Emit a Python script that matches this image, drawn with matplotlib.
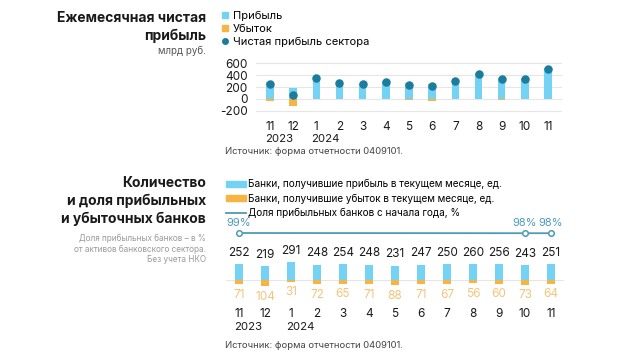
import matplotlib
matplotlib.use("Agg")
import matplotlib.pyplot as plt
import matplotlib.transforms as mtransforms
from matplotlib.lines import Line2D
from matplotlib.patches import Patch

plt.rcParams['font.family'] = ['Inter', 'DejaVu Sans']

# ---------------- data ----------------
months = ['11', '12', '1', '2', '3', '4', '5', '6', '7', '8', '9', '10', '11']
years = ['2023', '2024']
year_pos = [0, 2]

profit = [290, 185, 350, 280, 265, 300, 260, 250, 310, 430, 345, 350, 520]
loss = [-30, -115, -5, -10, -10, -5, -25, -35, -5, -5, -15, -10, -5]
net = [258, 68, 345, 268, 256, 290, 238, 215, 300, 420, 330, 340, 505]

banks_profit = [252, 219, 291, 248, 254, 248, 231, 247, 250, 260, 256, 243, 251]
banks_loss = [71, 104, 31, 72, 65, 71, 88, 71, 67, 56, 60, 73, 64]
share_idx = [0, 11, 12]
share_val = [99, 98, 98]

yticks_top = [600, 400, 200, 0, -200]

C_PROFIT = '#74D3F5'
C_LOSS = '#F6B443'
C_LOSS_TXT = '#F3C47C'
C_NET = '#1B7C9E'
C_LINE = '#4D9BB6'
C_GRID = '#E6E6E6'
C_TXT = '#1A1A1A'
C_GREY = '#9A9A9A'

W, H = 620, 358
fig = plt.figure(figsize=(W / 100, H / 100), dpi=100)


def fy(py):
    return 1 - py / H


def fx(px):
    return px / W


x = list(range(len(months)))

# ---------------- top chart ----------------
ax1 = fig.add_axes([fx(256), fy(113.7), fx(562) - fx(256), fy(60.3) - fy(113.7)])
ax1.set_xlim(-0.6, 12.6)
ax1.set_ylim(-250, 650)
for v in yticks_top:
    ax1.axhline(v, color=C_GRID, lw=0.8, zorder=0)
ax1.bar(x, profit, width=0.32, color=C_PROFIT, zorder=2)
ax1.bar(x, loss, width=0.32, color=C_LOSS, zorder=2)
ax1.scatter(x, net, s=26, color=C_NET, zorder=3)
ax1.set_yticks(yticks_top)
ax1.set_yticklabels([str(v) for v in yticks_top], fontsize=8.5, color=C_TXT)
ax1.set_xticks(x)
ax1.set_xticklabels(months, fontsize=8.5, color=C_TXT)
ax1.tick_params(length=0, axis='y', pad=6)
ax1.tick_params(length=0, axis='x', pad=5)
for s in ax1.spines.values():
    s.set_visible(False)
tr1 = mtransforms.blended_transform_factory(ax1.transData, fig.transFigure)
for yl, xp in zip(years, year_pos):
    ax1.text(xp + 0.38, fy(139.5), yl, transform=tr1, ha='center', va='center',
             fontsize=8.2, color=C_TXT)

leg1 = [
    Line2D([], [], marker='s', ls='none', color=C_PROFIT, markersize=4.5, label='Прибыль'),
    Line2D([], [], marker='s', ls='none', color=C_LOSS, markersize=4.5, label='Убыток'),
    Line2D([], [], marker='o', ls='none', color=C_NET, markersize=4, label='Чистая прибыль сектора'),
]
fig.legend(handles=leg1, loc='upper left', bbox_to_anchor=(fx(222), fy(11)),
           frameon=False, fontsize=8, handlelength=0.6, handletextpad=0.35,
           labelspacing=0.25, borderaxespad=0, borderpad=0)

fig.text(fx(206), fy(18), 'Ежемесячная чистая', ha='right', va='center',
         fontsize=10, fontweight='bold', color=C_TXT)
fig.text(fx(206), fy(36), 'прибыль', ha='right', va='center',
         fontsize=10, fontweight='bold', color=C_TXT)
fig.text(fx(206), fy(51), 'млрд руб.', ha='right', va='center',
         fontsize=7, color='#555555')
fig.text(fx(225), fy(151), 'Источник: форма отчетности 0409101.', ha='left',
         va='center', fontsize=6.8, color='#444444')

# ---------------- bottom chart ----------------
ax2 = fig.add_axes([fx(226), fy(300), fx(564) - fx(226), fy(220) - fy(300)])
ax2.set_xlim(-0.5, 12.5)
ax2.set_ylim(-321, 963)
ax2.axhline(0, color=C_GRID, lw=0.8, zorder=0)
ax2.bar(x, banks_profit, width=0.28, color=C_PROFIT, zorder=2)
ax2.bar(x, [-v for v in banks_loss], width=0.28, color=C_LOSS, zorder=2)
for xi, v in zip(x, banks_profit):
    ax2.annotate(str(v), (xi, v), xytext=(0, 8), textcoords='offset points',
                 ha='center', va='center', fontsize=8.5, color=C_TXT)
for xi, v in zip(x, banks_loss):
    ax2.annotate(str(v), (xi, -v), xytext=(0, -7.5), textcoords='offset points',
                 ha='center', va='center', fontsize=8.5, color=C_LOSS_TXT)
ax2.set_xticks(x)
ax2.set_xticklabels(months, fontsize=8.5, color=C_TXT)
ax2.tick_params(length=0, axis='x', pad=6)
ax2.set_yticks([])
for s in ax2.spines.values():
    s.set_visible(False)
tr2 = mtransforms.blended_transform_factory(ax2.transData, fig.transFigure)
for yl, xp in zip(years, year_pos):
    ax2.text(xp + 0.35, fy(327.5), yl, transform=tr2, ha='center', va='center',
             fontsize=8.2, color=C_TXT)

ax3 = ax2.twinx()
ax3.set_ylim(-236, 164)
ax3.plot(share_idx, share_val, color=C_LINE, lw=1.3, marker='o', markersize=4,
         markerfacecolor='white', markeredgecolor=C_LINE, markeredgewidth=1.1,
         clip_on=False)
for xi, v in zip(share_idx, share_val):
    ax3.annotate(f'{v}%', (xi, v), xytext=(0, 7), textcoords='offset points',
                 ha='center', va='center', fontsize=8, color=C_LINE)
ax3.set_yticks([])
for s in ax3.spines.values():
    s.set_visible(False)

leg2 = [
    Patch(color=C_PROFIT, label='Банки, получившие прибыль в текущем месяце, ед.'),
    Patch(color=C_LOSS, label='Банки, получившие убыток в текущем месяце, ед.'),
    Line2D([], [], color=C_LINE, lw=1.3, label='Доля прибыльных банков с начала года, %'),
]
fig.legend(handles=leg2, loc='upper left', bbox_to_anchor=(fx(226), fy(179)),
           frameon=False, fontsize=7.2, handlelength=2.0, handleheight=0.5,
           handletextpad=0.25, labelspacing=0.42, borderaxespad=0, borderpad=0)

for t, yy in zip(['Количество', 'и доля прибыльных', 'и убыточных банков'], [183, 201, 219]):
    fig.text(fx(206), fy(yy), t, ha='right', va='center', fontsize=10,
             fontweight='bold', color=C_TXT)
for t, yy in zip(['Доля прибыльных банков – в %', 'от активов банковского сектора.',
                  'Без учета НКО'], [238, 249, 259]):
    fig.text(fx(206), fy(yy), t, ha='right', va='center', fontsize=5.9, color=C_GREY)
fig.text(fx(225), fy(345), 'Источник: форма отчетности 0409101.', ha='left',
         va='center', fontsize=6.8, color='#444444')

fig.savefig('out.png', dpi=100)
